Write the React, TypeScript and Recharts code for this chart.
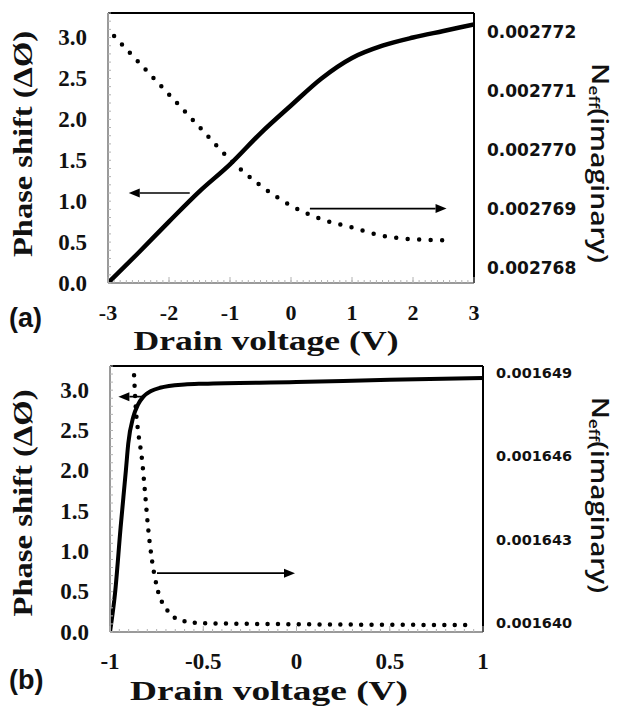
import React from "react";
import { Line, LineChart, ReferenceLine, XAxis, YAxis } from "recharts";

const SERIF = '"Liberation Serif", "Times New Roman", serif';
const SANS_TICK = '"DejaVu Sans", sans-serif';
const SANS_TITLE = '"Open Sans", "Liberation Sans", sans-serif';
const AXIS_GREY = "#9a9a9a";
const TICK_GREY = "#b2b2b2";

// (a) drain voltage sweep -3..3 V
const TOP_VOLTAGE = [-3, -2.5, -2, -1.5, -1, -0.5, 0, 0.5, 1, 1.5, 2, 2.5, 3];
const TOP_PHASE = [0, 0.37, 0.75, 1.12, 1.45, 1.83, 2.17, 2.5, 2.75, 2.9, 3.0, 3.08, 3.16];
const TOP_NEFF_VOLTAGE = [-2.9, -2.5, -2, -1.5, -1, -0.5, 0, 0.5, 1, 1.5, 2, 2.66];
const TOP_NEFF = [
	0.00277193, 0.00277149, 0.00277094, 0.00277039, 0.00276984, 0.0027694, 0.00276906, 0.00276883, 0.00276869,
	0.00276855, 0.00276849, 0.00276847,
];
const TOP_X_TICKS = [-3, -2, -1, 0, 1, 2, 3];
const TOP_RIGHT_TICKS = [0.002768, 0.002769, 0.00277, 0.002771, 0.002772];

// (b) drain voltage sweep -1..1 V
const BOTTOM_VOLTAGE = [-1, -0.973, -0.943, -0.915, -0.902, -0.875, -0.85, -0.821, -0.78, -0.732, -0.6, -0.5, 0, 0.5, 1];
const BOTTOM_PHASE = [0, 0.48, 1.3, 2.0, 2.34, 2.67, 2.82, 2.92, 2.99, 3.03, 3.07, 3.08, 3.1, 3.13, 3.15];
const BOTTOM_NEFF_VOLTAGE = [-0.871, -0.861, -0.85, -0.828, -0.812, -0.796, -0.775, -0.748, -0.694, -0.625, -0.517, 0, 0.5, 0.93];
const BOTTOM_NEFF = [
	0.00164892, 0.00164766, 0.00164694, 0.00164586, 0.00164468, 0.00164345, 0.00164227, 0.00164129, 0.00164047,
	0.00164011, 0.00164, 0.00163996, 0.00163994, 0.00163993,
];
const BOTTOM_X_TICKS = [-1, -0.5, 0, 0.5, 1];
const BOTTOM_RIGHT_TICKS = [0.00164, 0.001643, 0.001646, 0.001649];

const PHASE_TICKS = [0, 0.5, 1, 1.5, 2, 2.5, 3];

function steps(start: number, stop: number, step: number) {
	const out: number[] = [];
	const n = Math.round((stop - start) / step);
	for (let i = 0; i <= n; i++) out.push(Number((start + i * step).toFixed(4)));
	return out;
}

const isIn = (list: number[], v: number) => list.some((m) => Math.abs(m - v) < 1e-9);

function arrowShape(props: any) {
	const { x1, y1, x2, y2 } = props;
	const ang = Math.atan2(y2 - y1, x2 - x1);
	const c = Math.cos(ang);
	const s = Math.sin(ang);
	const len = 11;
	const half = 4.5;
	const bx = x2 - len * c;
	const by = y2 - len * s;
	return (
		<g>
			<line x1={x1} y1={y1} x2={bx} y2={by} stroke="#000" strokeWidth={1.7} />
			<polygon points={`${x2},${y2} ${bx - s * half},${by + c * half} ${bx + s * half},${by - c * half}`} fill="#000" />
		</g>
	);
}

type PanelProps = {
	top: number;
	height: number;
	margin: { top: number; right: number; bottom: number; left: number };
	xDomain: [number, number];
	xTicks: number[];
	xMinorStep: number;
	xFont: number;
	rightDomain: [number, number];
	rightTicks: number[];
	rightFont: number;
	voltage: number[];
	phase: number[];
	neffVoltage: number[];
	neff: number[];
	dotGap: number;
	solidWidth: number;
	arrows: Array<[[number, number], [number, number]]>;
	yTitle: { cx: number; cy: number; len: number };
	rTitle: { cx: number; cy: number; len: number };
	xTitle: { cx: number; cy: number; len: number; size: number };
};

function Panel(p: PanelProps) {
	const phaseRows = p.voltage.map((v, i) => ({ v, phase: p.phase[i] }));
	const neffRows = p.neffVoltage.map((v, i) => ({ v, neff: p.neff[i] }));
	const xMinor = steps(p.xDomain[0], p.xDomain[1], p.xMinorStep);
	const yMinor = steps(0, 3.3, 0.1);

	const XTick = (props: any) => {
		const { x, y, payload } = props;
		const v = payload.value;
		if (!isIn(p.xTicks, v)) return <g />;
		const axisY = y + 3;
		return (
			<g>
				<line x1={x} x2={x} y1={axisY} y2={axisY - 6} stroke={TICK_GREY} />
				<text
					x={x}
					y={axisY + 29}
					textAnchor="middle"
					dominantBaseline="central"
					fontFamily={SERIF}
					fontWeight="bold"
					fontSize={p.xFont}
					fill="#111"
				>
					{String(v)}
				</text>
			</g>
		);
	};

	const LeftTick = (props: any) => {
		const { x, y, payload } = props;
		const v = payload.value;
		if (!isIn(PHASE_TICKS, v)) return <g />;
		const axisX = x - 3;
		return (
			<text
				x={axisX - 21}
				y={y}
				textAnchor="end"
				dominantBaseline="central"
				fontFamily={SERIF}
				fontWeight="bold"
				fontSize={23}
				fill="#111"
			>
				{v.toFixed(1)}
			</text>
		);
	};

	const RightTick = (props: any) => {
		const { x, y, payload } = props;
		return (
			<text
				x={x + 13}
				y={y}
				textAnchor="start"
				dominantBaseline="central"
				fontFamily={SANS_TICK}
				fontWeight="bold"
				fontSize={p.rightFont}
				fill="#111"
			>
				{payload.value.toFixed(6)}
			</text>
		);
	};

	return (
		<div style={{ position: "absolute", left: 0, top: p.top, width: 620, height: p.height }}>
			<LineChart width={620} height={p.height} margin={p.margin}>
				<XAxis
					dataKey="v"
					type="number"
					domain={p.xDomain}
					ticks={xMinor}
					interval={0}
					allowDataOverflow
					mirror
					height={30}
					tickSize={3}
					tickMargin={0}
					axisLine={{ stroke: AXIS_GREY, strokeWidth: 2 }}
					tickLine={{ stroke: TICK_GREY }}
					tick={XTick}
				/>
				<YAxis
					yAxisId="left"
					type="number"
					domain={[0, 3.3]}
					ticks={yMinor}
					interval={0}
					allowDataOverflow
					mirror
					width={60}
					tickSize={3}
					tickMargin={0}
					axisLine={{ stroke: AXIS_GREY, strokeWidth: 2 }}
					tickLine={{ stroke: TICK_GREY }}
					tick={LeftTick}
				/>
				<YAxis
					yAxisId="right"
					orientation="right"
					type="number"
					domain={p.rightDomain}
					ticks={p.rightTicks}
					interval={0}
					allowDataOverflow
					width={100}
					tickSize={0}
					tickMargin={0}
					axisLine={{ stroke: "#000", strokeWidth: 2 }}
					tickLine={false}
					tick={RightTick}
				/>
				<ReferenceLine yAxisId="left" y={3.3} stroke="#000" strokeWidth={2} />
				<Line
					data={phaseRows}
					yAxisId="left"
					dataKey="phase"
					type="monotone"
					stroke="#000"
					strokeWidth={p.solidWidth}
					dot={false}
					isAnimationActive={false}
				/>
				<Line
					data={neffRows}
					yAxisId="right"
					dataKey="neff"
					type="monotone"
					stroke="#000"
					strokeWidth={4.5}
					strokeLinecap="round"
					strokeDasharray={`0 ${p.dotGap}`}
					dot={false}
					isAnimationActive={false}
				/>
				{p.arrows.map((seg, i) => (
					<ReferenceLine
						key={i}
						yAxisId="left"
						segment={[
							{ x: seg[0][0], y: seg[0][1] },
							{ x: seg[1][0], y: seg[1][1] },
						]}
						ifOverflow="visible"
						shape={arrowShape}
					/>
				))}
				<text
					x={p.yTitle.cx}
					y={p.yTitle.cy}
					transform={`rotate(-90 ${p.yTitle.cx} ${p.yTitle.cy})`}
					textAnchor="middle"
					dominantBaseline="central"
					fontFamily={SERIF}
					fontWeight="bold"
					fontSize={27}
					textLength={p.yTitle.len}
					lengthAdjust="spacingAndGlyphs"
					fill="#111"
				>
					Phase shift (ΔØ)
				</text>
				<text
					x={p.rTitle.cx}
					y={p.rTitle.cy}
					transform={`rotate(90 ${p.rTitle.cx} ${p.rTitle.cy})`}
					textAnchor="middle"
					dominantBaseline="central"
					fontFamily={SANS_TITLE}
					fontWeight={600}
					fontSize={24}
					textLength={p.rTitle.len}
					lengthAdjust="spacingAndGlyphs"
					fill="#111"
				>
					N
					<tspan fontSize={15} dy={6}>
						eff
					</tspan>
					<tspan dy={-6}>(imaginary)</tspan>
				</text>
				<text
					x={p.xTitle.cx}
					y={p.xTitle.cy}
					textAnchor="middle"
					dominantBaseline="central"
					fontFamily={SERIF}
					fontWeight="bold"
					fontSize={p.xTitle.size}
					textLength={p.xTitle.len}
					lengthAdjust="spacingAndGlyphs"
					fill="#111"
				>
					Drain voltage (V)
				</text>
			</LineChart>
		</div>
	);
}

const panelTag: React.CSSProperties = {
	position: "absolute",
	left: 9,
	fontFamily: '"Liberation Sans", Arial, sans-serif',
	fontWeight: "bold",
	fontSize: 27,
	lineHeight: "30px",
	color: "#111",
};

export default function App() {
	return (
		<div style={{ position: "absolute", left: 0, top: 0, width: 620, height: 709, background: "#fff" }}>
			<Panel
				top={0}
				height={356}
				margin={{ top: 13, right: 46, bottom: 73, left: 108 }}
				xDomain={[-3, 3]}
				xTicks={TOP_X_TICKS}
				xMinorStep={0.1}
				xFont={22}
				rightDomain={[0.00276775, 0.00277232]}
				rightTicks={TOP_RIGHT_TICKS}
				rightFont={17}
				voltage={TOP_VOLTAGE}
				phase={TOP_PHASE}
				neffVoltage={TOP_NEFF_VOLTAGE}
				neff={TOP_NEFF}
				dotGap={11.5}
				solidWidth={4.5}
				arrows={[
					[
						[-1.66, 1.1],
						[-2.66, 1.1],
					],
					[
						[0.31, 0.91],
						[2.55, 0.91],
					],
				]}
				yTitle={{ cx: 23, cy: 144, len: 226 }}
				rTitle={{ cx: 601, cy: 163, len: 200 }}
				xTitle={{ cx: 266, cy: 340, len: 265, size: 28 }}
			/>
			<Panel
				top={356}
				height={353}
				margin={{ top: 10, right: 37, bottom: 77, left: 110 }}
				xDomain={[-1, 1]}
				xTicks={BOTTOM_X_TICKS}
				xMinorStep={0.05}
				xFont={23}
				rightDomain={[0.00163968, 0.00164925]}
				rightTicks={BOTTOM_RIGHT_TICKS}
				rightFont={14.5}
				voltage={BOTTOM_VOLTAGE}
				phase={BOTTOM_PHASE}
				neffVoltage={BOTTOM_NEFF_VOLTAGE}
				neff={BOTTOM_NEFF}
				dotGap={10.4}
				solidWidth={4}
				arrows={[
					[
						[-0.823, 2.92],
						[-0.955, 2.92],
					],
					[
						[-0.748, 0.73],
						[-0.008, 0.73],
					],
				]}
				yTitle={{ cx: 23, cy: 147, len: 227 }}
				rTitle={{ cx: 601, cy: 139, len: 196 }}
				xTitle={{ cx: 269, cy: 335, len: 278, size: 27 }}
			/>
			<div style={{ ...panelTag, top: 303 }}>(a)</div>
			<div style={{ ...panelTag, top: 665 }}>(b)</div>
		</div>
	);
}
